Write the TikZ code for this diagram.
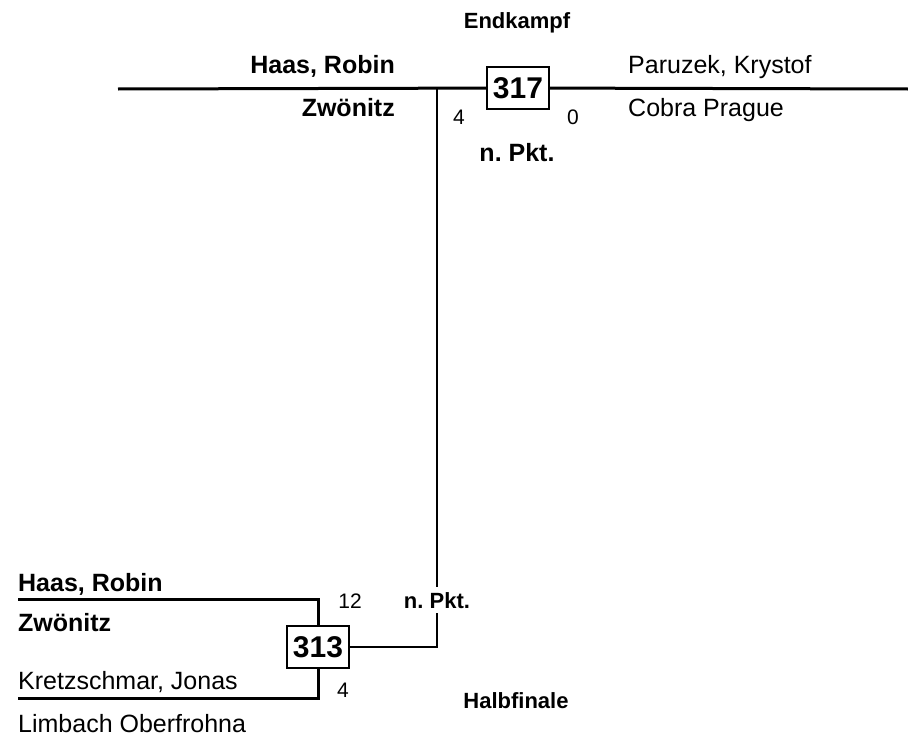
\documentclass[tikz,border=0pt]{standalone}
\usepackage{fontspec}
\setmainfont{Liberation Sans}
\frenchspacing
\begin{document}
\begin{tikzpicture}[
        x=1pt, y=-1pt, % координаты в пикселях, ось y вниз
        spieler/.style = {inner sep=0pt, font=\fontsize{25}{29}\selectfont}, % имя и клуб
        sieger/.style = {inner sep=0pt, font=\fontsize{25}{29}\selectfont\bfseries}, % победитель
        kampf/.style = {draw, line width=1.3pt, fill=white, minimum width=62pt, minimum height=42pt, inner sep=0pt, font=\fontsize{30}{34}\selectfont\bfseries}, % номер схватки
        punkte/.style = {inner sep=0pt, font=\fontsize{21}{25}\selectfont}, % очки
        runde/.style = {inner sep=0pt, font=\fontsize{22}{26}\selectfont\bfseries}, % название круга
        linie/.style = {line width=3pt},
        ast/.style = {line width=2.2pt},
    ]
    \useasboundingbox (0,0) rectangle (908,736);

    % Endkampf
    \node[runde, anchor=base] (endkampf) at (517,28) {Endkampf};
    \node[kampf] (k317) at (518,88) {317};
    \coordinate (finL) at (118,89);
    \coordinate (finR) at (908,89);
    \coordinate (finAst) at (437,89);
    \draw[linie] (finL) -- (k317) -- (finR);

    \node[sieger, anchor=base east] (haas1) at (395,73) {Haas, Robin};
    \node[sieger, anchor=base east] (zwoe1) at (395,116) {Zwönitz};
    \node[spieler, anchor=base west] (paruzek) at (628,73) {Paruzek, Krystof};
    \node[spieler, anchor=base west] (cobra) at (628,116) {Cobra Prague};
    \node[punkte, anchor=base] (p4a) at (459,124) {4};
    \node[punkte, anchor=base] (p0) at (573,124) {0};
    \node[sieger, anchor=base] (npkt1) at (517,161) {n. Pkt.};

    % Halbfinale
    \node[kampf] (k313) at (318,647) {313};
    \coordinate (hfO) at (18,599);
    \coordinate (hfU) at (18,698);
    \draw[linie] (hfO) -| (k313.north);
    \draw[linie] (hfU) -| (k313.south);

    \node[sieger, anchor=base west] (haas2) at (18,591) {Haas, Robin};
    \node[sieger, anchor=base west] (zwoe2) at (18,631) {Zwönitz};
    \node[spieler, anchor=base west] (kretz) at (18,689) {Kretzschmar, Jonas};
    \node[spieler, anchor=base west] (limbach) at (18,732) {Limbach Oberfrohna};
    \node[punkte, anchor=base] (p12) at (350,608) {12};
    \node[punkte, anchor=base] (p4b) at (343,697) {4};
    \node[runde, anchor=base, inner ysep=5pt] (npkt2) at (437,608) {n. Pkt.};
    \node[runde, anchor=base] (halbfinale) at (516,708) {Halbfinale};

    % Verbindung
    \draw[ast] (finAst) -- (npkt2.north);
    \draw[ast] (npkt2.south) |- (k313.east);
\end{tikzpicture}
\end{document}
